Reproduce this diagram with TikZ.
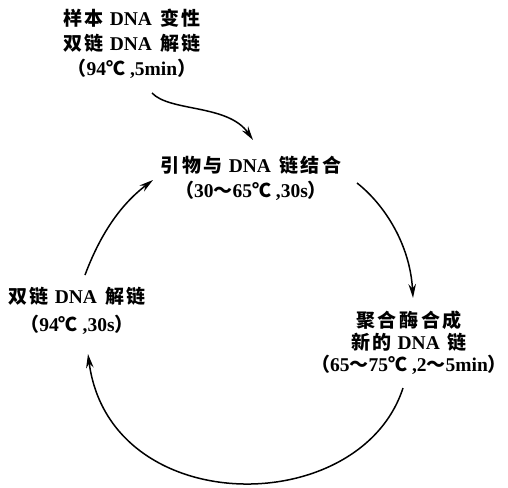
\documentclass[tikz,border=0pt]{standalone}
\usepackage{fontspec}
\setmainfont{Liberation Serif}
\newfontfamily\cjk[LetterSpace=14]{Noto Sans CJK SC}
\usetikzlibrary{arrows.meta}
\newcommand\zh[1]{{\cjk\fontsize{19}{25}\selectfont #1}}
\newcommand\dna{\hspace{1pt}DNA\hspace{8pt}}
\tikzset{
  lbl/.style={font=\bfseries\fontsize{19.5}{25}\selectfont, align=center, inner sep=0pt},
  flow/.style={line width=1.5pt, -{Stealth[length=14pt,width=7.5pt]}}
}
\begin{document}
\begin{tikzpicture}[x=1pt,y=-1pt]
\useasboundingbox (0,0) rectangle (508,487);
\node[lbl] (start) at (132,44) {\zh{样本} \dna \zh{变性}\\ \zh{双链} \dna \zh{解链}\\ \zh{（}94\zh{℃} ,5min\zh{）}};
\node[lbl] (anneal) at (251,178) {\zh{引物与} \dna \zh{链结合}\\ \zh{（}30\zh{～}65\zh{℃} ,30s\zh{）}};
\node[lbl, font=\bfseries\fontsize{19.5}{22}\selectfont] (extend) at (409,343) {\zh{聚合酶合成}\\ \zh{新的} \dna \zh{链}\\ \zh{（}65\zh{～}75\zh{℃} ,2\zh{～}5min\zh{）}};
\node[lbl] (denat) at (77,311) {\zh{双链} \dna \zh{解链}\\[3pt] \zh{（}94\zh{℃} ,30s\zh{）}};
\coordinate (a1s) at (152,93);
\coordinate (a1e) at (253,140);
\coordinate (a2s) at (357,183);
\coordinate (a2e) at (413,298);
\coordinate (a3s) at (403,388);
\coordinate (a3e) at (88,354);
\coordinate (a4s) at (85,275);
\coordinate (a4e) at (153,180);
\draw[flow] (a1s) .. controls (170,112) and (228,104) .. (a1e);
\draw[flow] (a2s) .. controls (385,205) and (410,245) .. (a2e);
\draw[flow] (a3s) .. controls (360,520) and (110,520) .. (a3e);
\draw[flow] (a4s) .. controls (100,235) and (120,205) .. (a4e);
\end{tikzpicture}
\end{document}
